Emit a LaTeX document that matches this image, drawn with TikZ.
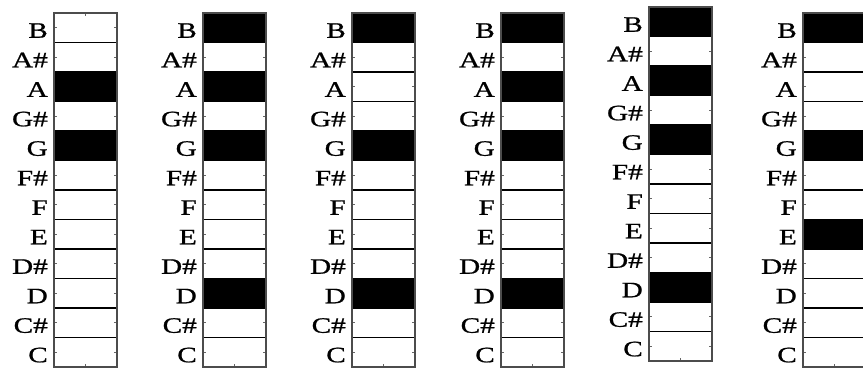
\documentclass[tikz,border=0pt]{standalone}
\usepackage{fontspec}
\newfontfamily\notefont[FakeStretch=1.33,FakeBold=0.9]{Liberation Serif}
\begin{document}
\begin{tikzpicture}[
    x=1pt, y=-1pt,
    notelab/.style={anchor=base east, inner sep=0pt, font=\notefont\fontsize{22}{23}\selectfont},
    onbar/.style={fill=black},
    sepline/.style={draw=black, line width=1.8pt},
    frameline/.style={draw=black!70, line width=1.4pt},
    tickmark/.style={draw=black!60, line width=0.9pt}
]
\useasboundingbox (0,0) rectangle (863,368);
\clip (0,0) rectangle (863,368);
\fill[white] (0,0) rectangle (863,368);

% one chroma column per frame: number / left edge / top edge / active rows (1 = B ... 12 = C)
\foreach \c/\xl/\yt/\onrows in {1/54/13/{3,5}, 2/203/13/{1,3,5,10}, 3/352/13/{1,5,10},
                                4/501/13/{1,3,5,10}, 5/649/7/{1,3,5,10}, 6/803/13/{1,5,8}} {
  \coordinate (col-\c) at (\xl,\yt);
  % ticks
  \foreach \r in {1,...,12} {
    \draw[tickmark] (\xl,\yt+\r*29.5-14.75) -- ++(3,0);
    \draw[tickmark] (\xl+63,\yt+\r*29.5-14.75) -- ++(-3,0);
  }
  \draw[tickmark] (\xl+31.5,\yt) -- ++(0,3);
  \draw[tickmark] (\xl+31.5,\yt+354) -- ++(0,-3);
  % active pitch classes
  \foreach \r in \onrows {
    \fill[onbar] (\xl,\yt+\r*29.5-29.5) rectangle ++(63,29.5);
  }
  \foreach \r in {1,...,11} {
    \draw[sepline] (\xl,\yt+\r*29.5) -- ++(63,0);
  }
  \draw[frameline] (\xl,\yt) rectangle ++(63,354);
  % note names
  \foreach \r/\nm in {1/B, 2/A\#, 3/A, 4/G\#, 5/G, 6/F\#, 7/F, 8/E, 9/D\#, 10/D, 11/C\#, 12/C} {
    \node[notelab] (lab-\c-\r) at (\xl-6,\yt+\r*29.5-14.75+10) {\nm};
  }
}
\end{tikzpicture}
\end{document}
